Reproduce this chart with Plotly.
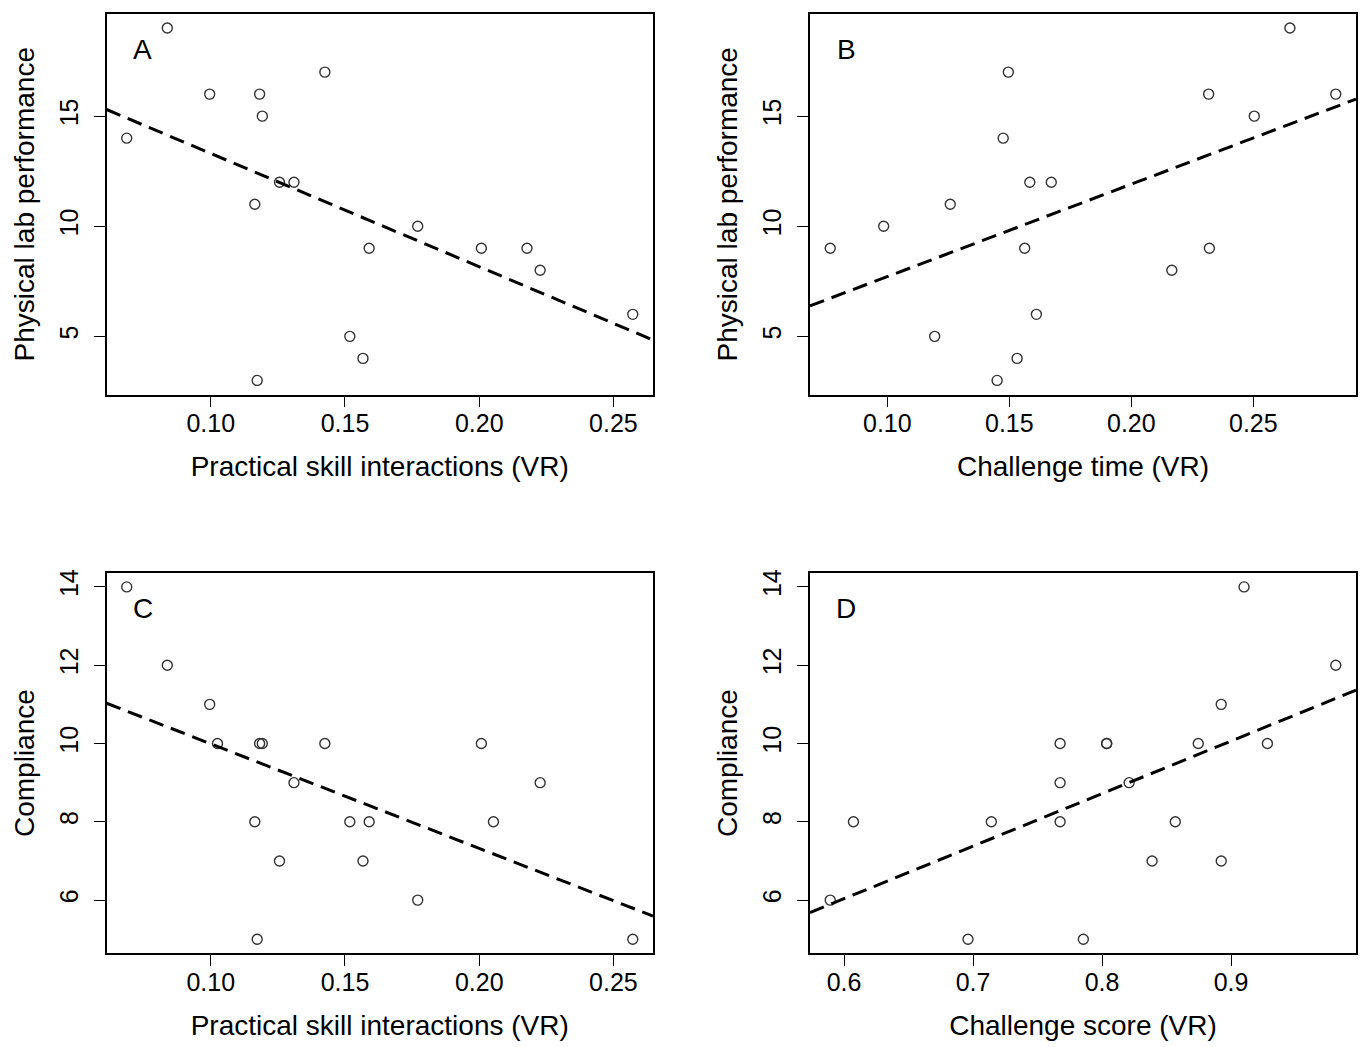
import numpy as np
import plotly.graph_objects as go

# ---------------- data ----------------
psi_A = [0.0838, 0.0996, 0.1182, 0.1192, 0.1425, 0.0687, 0.1256, 0.1310, 0.1164,
         0.1771, 0.1590, 0.2008, 0.2178, 0.2227, 0.2572, 0.1518, 0.1567, 0.1173]
lab_A = [19, 16, 16, 15, 17, 14, 12, 12, 11, 10, 9, 9, 9, 8, 6, 5, 4, 3]

time_B = [0.2650, 0.1496, 0.2317, 0.2838, 0.2504, 0.1475, 0.1584, 0.1672, 0.1258,
          0.0985, 0.0766, 0.1563, 0.2320, 0.2166, 0.1611, 0.1194, 0.1532, 0.1450]
lab_B = [19, 17, 16, 16, 15, 14, 12, 12, 11, 10, 9, 9, 9, 8, 6, 5, 4, 3]

psi_C = [0.0687, 0.0838, 0.0996, 0.1025, 0.1182, 0.1192, 0.1425, 0.2008, 0.1310, 0.2227,
         0.1164, 0.1518, 0.1590, 0.2053, 0.1256, 0.1567, 0.1771, 0.1173, 0.2572]
comp_C = [14, 12, 11, 10, 10, 10, 10, 10, 9, 9, 8, 8, 8, 8, 7, 7, 6, 5, 5]

score_D = [0.5893, 0.6073, 0.6961, 0.7142, 0.7675, 0.7675, 0.7675, 0.7855, 0.8036, 0.8036,
           0.8210, 0.8388, 0.8568, 0.8746, 0.8924, 0.8924, 0.9101, 0.9282, 0.9812]
comp_D = [6, 8, 5, 8, 10, 9, 8, 5, 10, 10, 9, 7, 8, 10, 11, 7, 14, 10, 12]

panel_letters = ["A", "B", "C", "D"]
x_titles = ["Practical skill interactions (VR)", "Challenge time (VR)",
            "Practical skill interactions (VR)", "Challenge score (VR)"]
y_titles = ["Physical lab performance", "Physical lab performance",
            "Compliance", "Compliance"]
x_ticks_AC = [0.10, 0.15, 0.20, 0.25]
x_ticks_B = [0.10, 0.15, 0.20, 0.25]
x_ticks_D = [0.6, 0.7, 0.8, 0.9]
y_ticks_AB = [5, 10, 15]
y_ticks_CD = [6, 8, 10, 12, 14]

# ---------------- layout constants ----------------
W, H = 1363, 1047
FONT = "Liberation Sans, Arial, Helvetica, sans-serif"
TICK_SIZE = 25
TITLE_SIZE = 28
LETTER_SIZE = 28

# pixel boxes of the four plot regions (left, right, top, bottom)
boxes = [(106.5, 653, 10, 392), (810, 1356, 10, 392),
         (106.5, 653, 571, 953), (810, 1356, 571, 953)]

panels = [
    (psi_A, lab_A, x_ticks_AC, ".2f", y_ticks_AB),
    (time_B, lab_B, x_ticks_B, ".2f", y_ticks_AB),
    (psi_C, comp_C, x_ticks_AC, ".2f", y_ticks_CD),
    (score_D, comp_D, x_ticks_D, ".1f", y_ticks_CD),
]


def r_range(v):
    v = np.asarray(v, dtype=float)
    lo, hi = v.min(), v.max()
    d = (hi - lo) * 0.04
    return [lo - d, hi + d]


fig = go.Figure()
annotations = []
layout = {}

for i, (xs, ys, xt, xfmt, yt) in enumerate(panels):
    n = "" if i == 0 else str(i + 1)
    xa, ya = "x" + n, "y" + n
    l, r, t, b = boxes[i]
    xr = r_range(xs)
    yr = r_range(ys)

    fig.add_trace(go.Scatter(
        x=xs, y=ys, mode="markers", xaxis=xa, yaxis=ya,
        marker=dict(symbol="circle-open", size=10, color="#333333",
                    line=dict(width=1.4, color="#333333")),
        showlegend=False))

    slope, intercept = np.polyfit(np.asarray(xs), np.asarray(ys), 1)
    lx = np.array(xr)
    fig.add_trace(go.Scatter(
        x=lx, y=intercept + slope * lx, mode="lines", xaxis=xa, yaxis=ya,
        line=dict(color="black", width=3, dash="15px,8px"),
        showlegend=False))

    common = dict(showline=True, linecolor="black", linewidth=1.5, mirror=True,
                  ticks="outside", ticklen=11, tickwidth=1.3, tickcolor="black",
                  showgrid=False, zeroline=False,
                  tickfont=dict(family=FONT, size=TICK_SIZE, color="black"))
    layout["xaxis" + n] = dict(
        common, domain=[l / W, r / W], anchor=ya, range=xr,
        tickvals=xt, tickformat=xfmt, ticklabelstandoff=-5,
        title=dict(text=x_titles[i], standoff=20,
                   font=dict(family=FONT, size=TITLE_SIZE, color="black")))
    layout["yaxis" + n] = dict(
        common, domain=[1 - b / H, 1 - t / H], anchor=xa, range=yr,
        tickvals=yt, tickangle=-90, ticklabelstandoff=6,
        title=dict(text=y_titles[i], standoff=12,
                   font=dict(family=FONT, size=TITLE_SIZE, color="black")))

    annotations.append(dict(
        text=panel_letters[i], xref="paper", yref="paper",
        x=(l + 36) / W, y=1 - (t + 36) / H, xanchor="center", yanchor="middle",
        showarrow=False, font=dict(family=FONT, size=LETTER_SIZE, color="black")))

fig.update_layout(
    width=W, height=H, margin=dict(l=0, r=0, t=0, b=0, pad=0),
    paper_bgcolor="white", plot_bgcolor="white",
    font=dict(family=FONT, color="black"),
    annotations=annotations, **layout)

fig.write_html("out.html", config={"displayModeBar": False},
               post_script="document.body.style.margin='0';document.body.style.overflow='hidden';")
